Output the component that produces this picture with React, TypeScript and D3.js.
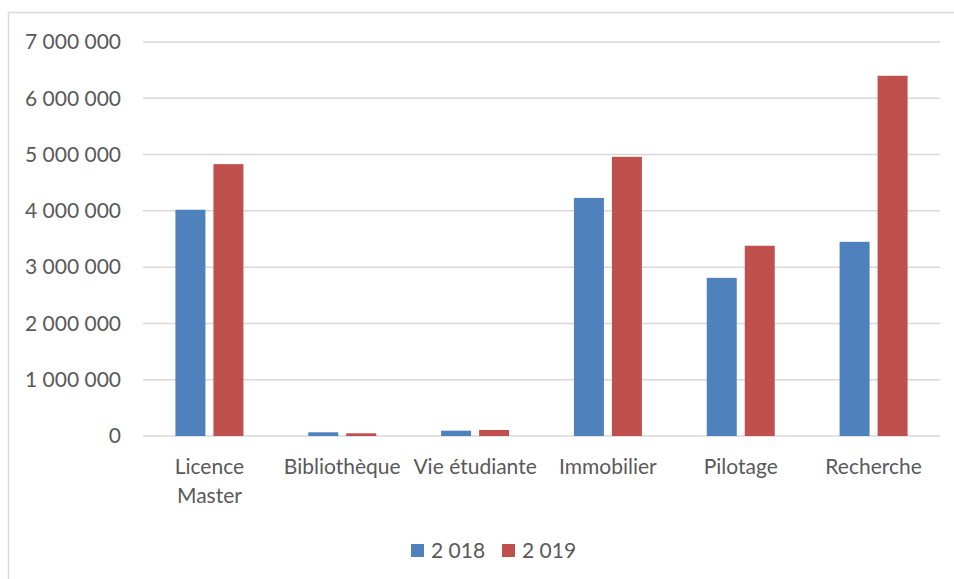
import * as d3 from "d3";

const categories = ["Licence\nMaster", "Bibliothèque", "Vie étudiante", "Immobilier", "Pilotage", "Recherche"];
const seriesNames = ["2 018", "2 019"];
const values2018 = [4020000, 66000, 94000, 4230000, 2810000, 3450000];
const values2019 = [4830000, 48000, 107000, 4960000, 3380000, 6400000];
const yTicks = [0, 1000000, 2000000, 3000000, 4000000, 5000000, 6000000, 7000000];
const colors = ["#4F81BD", "#C0504D"];

const W = 954;
const H = 579;
const margin = { top: 42, right: 14, bottom: 143, left: 143 };

const fr = d3.formatLocale({ decimal: ",", thousands: " ", grouping: [3], currency: ["", ""] });
const fmt = fr.format(",");

export default function App() {
  const series = [values2018, values2019];
  const x = d3.scaleBand<string>()
    .domain(categories)
    .range([margin.left, W - margin.right]);
  const y = d3.scaleLinear()
    .domain([0, 7000000])
    .range([H - margin.bottom, margin.top]);

  const barW = 30;
  const gap = 8;
  const font = "Lato, 'Open Sans', sans-serif";
  const fs = 21;

  return (
    <svg width={W} height={H} style={{ position: "absolute", left: 0, top: 0, background: "#fff" }}>
      <rect x={8.5} y={12.5} width={W} height={H} fill="none" stroke="#d9d9d9" strokeWidth={1.5} />
      {yTicks.map((t) => (
        <g key={t}>
          <line x1={margin.left} x2={W - margin.right} y1={y(t)} y2={y(t)} stroke="#d9d9d9" strokeWidth={1.5} />
          <text x={121} y={y(t)} dy="0.35em" textAnchor="end" fontFamily={font} fontSize={fs} fill="#595959">
            {fmt(t)}
          </text>
        </g>
      ))}
      {categories.map((c, i) => {
        const cx = (x(c) as number) + x.bandwidth() / 2;
        return (
          <g key={c}>
            {series.map((s, k) => {
              const bx = cx + (k === 0 ? -gap / 2 - barW : gap / 2);
              return (
                <rect key={k} x={bx} y={y(s[i])} width={barW} height={y(0) - y(s[i])} fill={colors[k]} />
              );
            })}
            <text x={cx} y={474} textAnchor="middle" fontFamily={font} fontSize={fs} fill="#595959">
              {c.split("\n").map((line, j) => (
                <tspan key={j} x={cx} dy={j === 0 ? 0 : 29}>{line}</tspan>
              ))}
            </text>
          </g>
        );
      })}
      {seriesNames.map((n, k) => {
        const lx = 411 + k * 91;
        return (
          <g key={n}>
            <rect x={lx} y={544} width={13} height={13} fill={colors[k]} />
            <text x={lx + 20} y={550.5} dy="0.35em" fontFamily={font} fontSize={fs} fill="#595959">{n}</text>
          </g>
        );
      })}
    </svg>
  );
}
